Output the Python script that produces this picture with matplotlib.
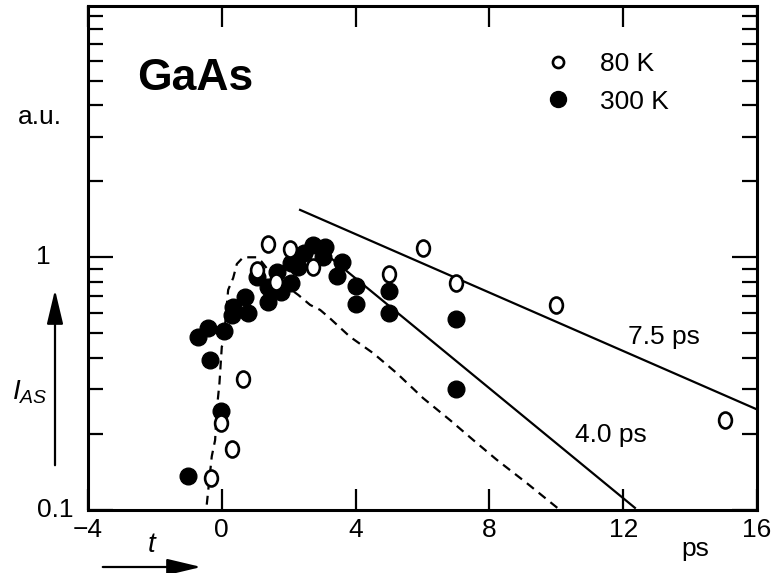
import matplotlib
matplotlib.use("Agg")
import matplotlib.pyplot as plt
from matplotlib.path import Path
from matplotlib.lines import Line2D
from matplotlib.patches import FancyArrowPatch
from matplotlib.ticker import LogLocator, NullFormatter, FixedLocator
import matplotlib.transforms as mtransforms
import numpy as np

plt.rcParams["font.family"] = ["Liberation Sans", "DejaVu Sans"]
plt.rcParams["mathtext.fontset"] = "custom"
plt.rcParams["mathtext.rm"] = "Liberation Sans"
plt.rcParams["mathtext.it"] = "Liberation Sans:italic"

# 80 K (open circles)
t_80 = [-0.32, -0.03, 0.30, 0.64, 1.06, 1.39, 1.62, 2.04, 2.74, 5.0, 6.0, 7.0, 10.0, 15.03]
i_80 = [0.134, 0.22, 0.175, 0.329, 0.89, 1.125, 0.80, 1.076, 0.918, 0.857, 1.086, 0.793, 0.648, 0.227]

# 300 K (filled circles)
t_300 = [-1.00, -0.70, -0.42, -0.35, -0.02, 0.07, 0.33, 0.30, 0.69, 0.79, 1.04, 1.39, 1.39, 1.66,
         1.77, 2.06, 2.06, 2.29, 2.46, 2.74, 3.03, 3.08, 3.58, 3.45, 4.01, 4.01, 5.01, 5.01, 7.0, 7.0]
i_300 = [0.136, 0.485, 0.524, 0.392, 0.247, 0.511, 0.634, 0.591, 0.698, 0.604, 0.834, 0.765, 0.667, 0.877,
         0.731, 0.793, 0.947, 0.918, 1.037, 1.119, 1.005, 1.101, 0.961, 0.843, 0.769, 0.653, 0.738, 0.600, 0.570, 0.300]

# cross-correlation (dashed)
xc_t = [-0.45, -0.30, -0.20, -0.15, -0.07, 0.00, 0.05, 0.19, 0.34, 0.45, 0.64, 1.04, 1.19, 1.54,
        2.29, 2.64, 2.94, 3.23, 3.83, 4.53, 5.23, 6.02, 6.82, 7.52, 8.22, 9.11, 10.11]
xc_i = [0.105, 0.163, 0.189, 0.249, 0.318, 0.443, 0.457, 0.743, 0.828, 0.941, 1.0, 1.0, 0.961, 0.838,
        0.709, 0.648, 0.619, 0.574, 0.485, 0.417, 0.348, 0.277, 0.227, 0.189, 0.158, 0.128, 0.100]

# exponential fits (straight on log scale)
fit75_t = [2.34, 16.0]
fit75_i = [1.54, 0.25]
fit40_t = [3.0, 12.35]
fit40_i = [1.06, 0.102]

x_ticks = [-4, 0, 4, 8, 12, 16]
x_labels = ["\u22124", "0", "4", "8", "12", "16"]

fig = plt.figure(figsize=(7.74, 5.73), dpi=100)
ax = fig.add_axes([88 / 774, 1 - 510 / 573, 669 / 774, 504 / 573])
ax.set_xlim(-4, 16)
ax.set_ylim(0.1, 9.87)
ax.set_yscale("log")

# vertical ellipse marker for the open circles
ell = Path(Path.unit_circle().vertices * np.array([0.8, 1.0]), Path.unit_circle().codes)

ax.plot(xc_t, xc_i, color="black", lw=1.6, dashes=(4.0, 2.8), zorder=2)
ax.plot(fit75_t, fit75_i, color="black", lw=1.6, zorder=2)
ax.plot(fit40_t, fit40_i, color="black", lw=1.6, zorder=2)
ax.plot(t_300, i_300, "o", color="black", ms=12, mec="black", zorder=3)
ax.plot(t_80, i_80, ls="none", marker=ell, ms=11.5, mfc="white", mec="black", mew=1.9, zorder=4)

for sp in ax.spines.values():
    sp.set_linewidth(2.2)

ax.xaxis.set_major_locator(FixedLocator(x_ticks))
ax.set_xticklabels(x_labels)
ax.tick_params(axis="x", which="major", direction="in", top=True, length=15, width=1.6,
               labelsize=19, pad=6)
ax.yaxis.set_major_locator(FixedLocator([0.1, 1, 10]))
ax.yaxis.set_minor_locator(LogLocator(base=10, subs=np.arange(2, 10)))
ax.yaxis.set_major_formatter(NullFormatter())
ax.yaxis.set_minor_formatter(NullFormatter())
ax.tick_params(axis="y", which="major", direction="in", right=True, length=18, width=1.6)
ax.tick_params(axis="y", which="minor", direction="in", right=True, length=11, width=1.6)

# y labels
tr = mtransforms.blended_transform_factory(ax.transAxes, ax.transData)
ax.text(-0.022, 0.1, "0.1", transform=tr, ha="right", va="center", fontsize=19)
ax.text(-0.067, 1.0, "1", transform=tr, ha="center", va="center", fontsize=19)

# annotations
ax.text(12.14, 0.484, "7.5 ps", ha="left", va="center", fontsize=19)
ax.text(10.56, 0.198, "4.0 ps", ha="left", va="center", fontsize=19)
fig.text(137 / 774, 1 - 78 / 573, "GaAs", ha="left", va="center", fontsize=32, fontweight="bold")
fig.text(18 / 774, 1 - 117 / 573, "a.u.", ha="left", va="center", fontsize=19)
fig.text(695 / 774, 1 - 549 / 573, "ps", ha="center", va="center", fontsize=19)
fig.text(152 / 774, 1 - 545 / 573, "$t$", ha="center", va="center", fontsize=20)
fig.text(30 / 774, 1 - 392 / 573, "$I_{AS}$", ha="center", va="center", fontsize=20)

# legend
h80 = Line2D([], [], ls="none", marker="o", ms=8, mfc="white", mec="black", mew=1.9)
h300 = Line2D([], [], ls="none", marker="o", ms=11.5, color="black")
ax.legend([h80, h300], ["80 K", "300 K"], loc="center left", frameon=False, fontsize=19,
          bbox_to_anchor=(550 / 774, 1 - 83 / 573), bbox_transform=fig.transFigure,
          handlelength=0.6, handletextpad=1.3, labelspacing=0.5, borderpad=0, borderaxespad=0)

# arrows
arr_h = FancyArrowPatch((100, 573 - 567), (204, 573 - 567), transform=None,
                        arrowstyle="-|>,head_length=2.1,head_width=0.5", mutation_scale=10,
                        lw=1.6, color="black")
arr_v = FancyArrowPatch((55, 573 - 468), (55, 573 - 287), transform=None,
                        arrowstyle="-|>,head_length=2.1,head_width=0.5", mutation_scale=10,
                        lw=1.6, color="black")
fig.patches.extend([arr_h, arr_v])

fig.savefig("out.png", dpi=100)
